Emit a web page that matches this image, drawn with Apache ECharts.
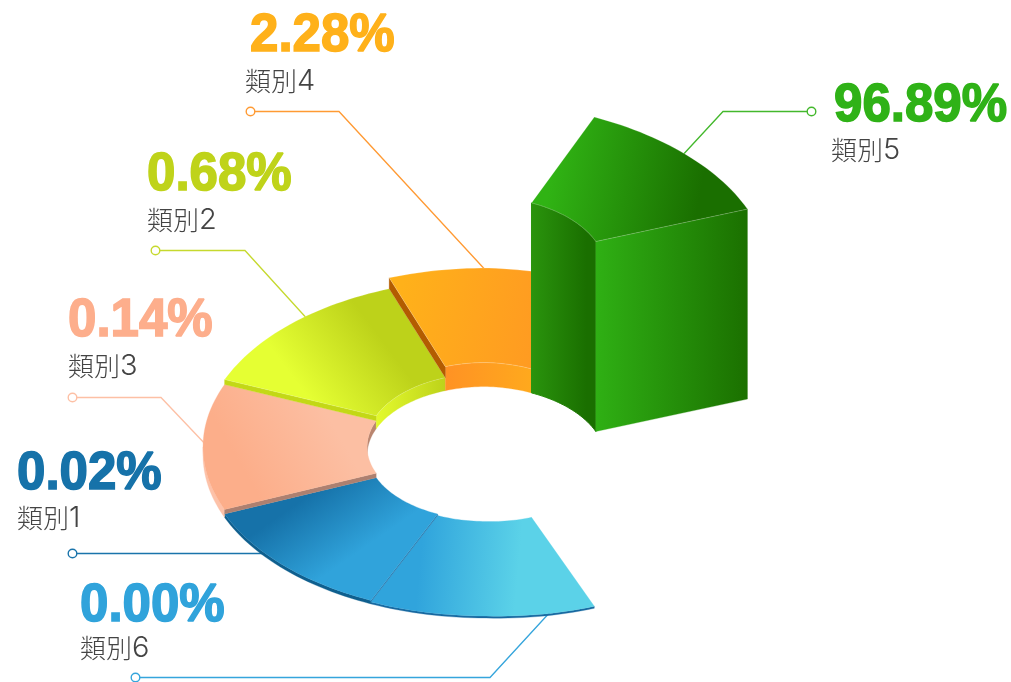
<!DOCTYPE html>
<html><head><meta charset="utf-8">
<style>html,body{margin:0;padding:0;background:#fff}#c{width:1011px;height:682px}</style>
<script src="https://cdn.jsdelivr.net/npm/echarts@6/dist/echarts.min.js"></script>
</head><body><div id="c"></div>
<script>
// data, in clockwise drawing order (slice order around the ring)
const categories = ['類別6','類別1','類別3','類別2','類別4','類別5'];
const percents   = [0.00, 0.02, 0.14, 0.68, 2.28, 96.89];
const heights    = [2, 3.5, 8, 13, 24, 190];
const edgeAngles = [67.5, 114, 157.5, 202.5, 250, 292.5, 337.5];

// ring geometry
const cx = 486, cy = 455, RX = 283, RY = 163, TILT = 7, HOLE = 0.42;

// styling
const valueColors  = ['#30a3db','#1672a9','#fdae8c','#bfd31a','#ffb11a','#2fb217'];
const leaderColors = ['#35a5dc','#1a74ab','#fdc0a5','#c6d92e','#ff9a33','#43b82c'];
const lin = (x,y,x2,y2,stops) => ({type:'linear',x,y,x2,y2,colorStops:stops.map(s=>({offset:s[0],color:s[1]}))});
const topFills = [
  lin(0,0.4,1,0.6,[[0.22,'#30a4dc'],[0.66,'#5bd2e8'],[1,'#5bd2e8']]),
  lin(0.35,0.2,0.55,0.7,[[0,'#1672a9'],[1,'#30a3db']]),
  lin(0.2,0.6,0.7,0.2,[[0,'#fcae8a'],[1,'#fcbfa3']]),
  lin(0.32,0.72,0.66,0.28,[[0,'#e5ff33'],[1,'#bdd21a']]),
  lin(0.05,0.3,1,0.7,[[0,'#ffb11a'],[1,'#ff9224']]),
  lin(0.1,0.4,0.78,0.62,[[0,'#30b314'],[1,'#1a6f00']])
];
const outerFills = ['#1768a0','#0f5f8e','#fdc2a9','#bcd01c','#c96a00','#1a6f00'];
const innerFills = [
  '#30a4dc','#1672a9','#b9856f',
  lin(0,0,1,0,[[0,'#e3fa2d'],[1,'#bdd21a']]),
  lin(0,0,1,0,[[0,'#ff9224'],[1,'#ffa91d']]),
  lin(0,0,1,0,[[0,'#2a940d'],[0.85,'#1a6f00'],[1,'#1a6f00']])
];
const sideFills = [
  '#1768a0','#1f74ab','#ad8070','#c3d816','#b35c00',
  lin(0,0,1,0,[[0,'#2fb014'],[1,'#1b7000']])
];
const seamColors = [null,null,null,'rgba(255,255,255,0.22)','rgba(255,255,255,0.3)','rgba(255,255,255,0.3)'];

// label layout: value text, category text, leader path
const valuePos = [[80,606],[17,474],[68,321],[147,175],[250,36],[834,106]];
const namePos  = [[80,648],[17,518],[68,366],[147,220],[245,81],[831,150]];
const leaders  = [
  [[135.5,677.5],[490,677.5],[552,610]],
  [[72.5,553.5],[265,553.5]],
  [[72.5,397.5],[161,397.5],[208,447]],
  [[155.5,250.5],[245,250.5],[310,322]],
  [[250.5,111.5],[339,111.5],[490,275]],
  [[811.5,111.5],[723,111.5],[680,158]]
];

function renderSlice(params, api) {
  const i = params.dataIndex;
  const a0 = edgeAngles[i], a1 = edgeAngles[i + 1], h = api.value(2);
  const P = (deg, r, z) => {
    const t = deg * Math.PI / 180, c = Math.cos(t), s = Math.sin(t);
    return api.coord([cx + r * RX * c, cy + r * (RY * s + TILT * Math.max(c, 0)) - z]);
  };
  const arc = (from, to, r, z) => {
    const n = Math.max(1, Math.ceil(Math.abs(to - from) / 1.5)), pts = [];
    for (let k = 0; k <= n; k++) pts.push(P(from + (to - from) * k / n, r, z));
    return pts;
  };
  const poly = (points, fill, stroke, width) => ({
    type: 'polygon', shape: {points}, silent: true,
    style: {fill, stroke: stroke || fill, lineWidth: width || (stroke ? 0.7 : 0.3)}
  });
  const children = [];
  // outer curved wall: faces the viewer in the lower half
  const oa = Math.max(a0, 0), ob = Math.min(a1, 180);
  if (ob > oa) children.push(poly(arc(oa, ob, 1, h).concat(arc(ob, oa, 1, 0)), outerFills[i]));
  // inner curved wall: faces the viewer in the upper half
  const ia = Math.max(a0, 180), ib = Math.min(a1, 360);
  if (ib > ia) children.push(poly(arc(ia, ib, HOLE, h).concat(arc(ib, ia, HOLE, 0)), innerFills[i], null, h > 100 ? 1 : 0.3));
  // radial walls: only the part above the lower neighbour shows
  const wall = (deg, base) => poly([P(deg, HOLE, h), P(deg, 1, h), P(deg, 1, base), P(deg, HOLE, base)], sideFills[i]);
  if (Math.cos(a0 * Math.PI / 180) < 0) children.push(wall(a0, i > 0 ? heights[i - 1] : 0));
  if (Math.cos(a1 * Math.PI / 180) > 0) children.push(wall(a1, 0));
  // top
  children.push(poly(arc(a0, a1, 1, h).concat(arc(a1, a0, HOLE, h)), topFills[i], seamColors[i]));
  return {type: 'group', children};
}

function renderLeader(params, api) {
  const i = params.dataIndex, path = leaders[i].map(p => api.coord(p)), c = leaderColors[i];
  return {type: 'group', children: [
    {type: 'polyline', silent: true, shape: {points: path}, style: {stroke: c, lineWidth: 1.3, fill: 'none'}},
    {type: 'circle', silent: true, shape: {cx: path[0][0], cy: path[0][1], r: 4.3}, style: {fill: '#fff', stroke: c, lineWidth: 1.4}}
  ]};
}

function renderLabel(params, api) {
  const i = params.dataIndex, v = api.coord(valuePos[i]), n = api.coord(namePos[i]);
  const name = categories[i];
  return {type: 'group', children: [
    {type: 'text', silent: true, x: v[0], y: v[1], scaleX: 0.945, style: {
      text: percents[i].toFixed(2) + '%', x: 0, y: 0, fill: valueColors[i], stroke: valueColors[i], lineWidth: 1.6,
      font: 'bold 54px "Liberation Sans", Arial, sans-serif', align: 'left', verticalAlign: 'middle'}},
    {type: 'text', silent: true, x: n[0], y: n[1], style: {
      text: '{c|' + name.slice(0, 2) + '}{d|' + name.slice(2) + '}', x: 0, y: 0, align: 'left', verticalAlign: 'middle',
      rich: {
        c: {fill: '#444', font: '300 26px "Noto Sans CJK TC", "Noto Sans", sans-serif'},
        d: {fill: '#444', font: '300 29px Inter, "Liberation Sans", sans-serif'}
      }}}
  ]};
}

const seriesData = categories.map((c, i) => ({name: c, value: [i, percents[i], heights[i]]}));
const chart = echarts.init(document.getElementById('c'), null, {renderer: 'canvas'});
const common = {type: 'custom', coordinateSystem: 'cartesian2d', data: seriesData, clip: false, animation: false, silent: true, encode: {x: 0, y: 1}};
chart.setOption({
  animation: false,
  backgroundColor: '#fff',
  grid: {left: 0, right: 0, top: 0, bottom: 0},
  xAxis: {type: 'value', min: 0, max: 1011, show: false},
  yAxis: {type: 'value', min: 0, max: 682, inverse: true, show: false},
  tooltip: {show: false},
  series: [
    Object.assign({}, common, {name: 'leaders', z: 1, renderItem: renderLeader}),
    Object.assign({}, common, {name: 'ring', z: 2, renderItem: renderSlice}),
    Object.assign({}, common, {name: 'labels', z: 3, renderItem: renderLabel})
  ]
});
</script></body></html>
